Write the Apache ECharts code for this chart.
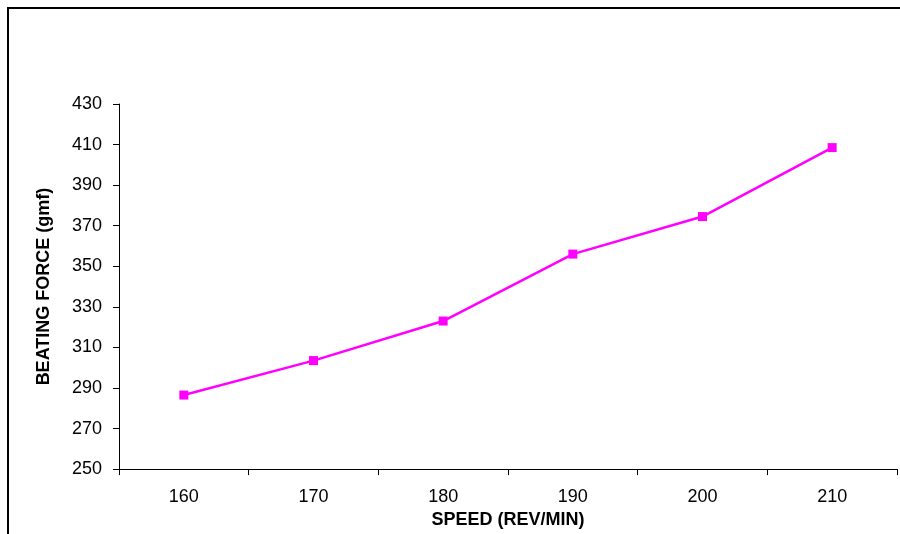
<!DOCTYPE html>
<html>
<head>
<meta charset="utf-8">
<script src="https://cdn.jsdelivr.net/npm/echarts@6/dist/echarts.min.js"></script>
<style>html,body{margin:0;padding:0;background:#fff}#c{width:900px;height:534px}</style>
</head>
<body>
<div id="c"></div>
<script>
const categories = ['160', '170', '180', '190', '200', '210'];
const beatingForce = [286.5, 303.5, 323, 356, 374.5, 408.5];
const yMin = 250, yMax = 430, yStep = 20;

const chart = echarts.init(document.getElementById('c'), null, {renderer: 'canvas'});
chart.setOption({
  animation: false,
  backgroundColor: '#fff',
  textStyle: {fontFamily: 'Liberation Sans, Arial, sans-serif'},
  graphic: [{
    type: 'rect', shape: {x: 8, y: 8, width: 1200, height: 1200},
    style: {fill: 'none', stroke: '#000', lineWidth: 2}, silent: true
  }],
  grid: {left: 119, top: 104, right: 3, bottom: 64, containLabel: false},
  xAxis: {
    type: 'category', data: categories, boundaryGap: true,
    name: 'SPEED (REV/MIN)', nameLocation: 'middle', nameGap: 41,
    nameTextStyle: {fontSize: 18, fontWeight: 'bold', color: '#000'},
    axisLine: {lineStyle: {color: '#000', width: 1}},
    axisTick: {show: true, length: 6, inside: false, lineStyle: {color: '#000'}},
    axisLabel: {fontSize: 18, color: '#000', margin: 19},
    splitLine: {show: false}
  },
  yAxis: {
    type: 'value', min: yMin, max: yMax, interval: yStep,
    name: 'BEATING FORCE (gmf)', nameLocation: 'middle', nameGap: 66, nameRotate: 90,
    nameTextStyle: {fontSize: 18, fontWeight: 'bold', color: '#000'},
    axisLine: {show: true, lineStyle: {color: '#000', width: 1}},
    axisTick: {show: true, length: 6, lineStyle: {color: '#000'}},
    axisLabel: {fontSize: 18, color: '#000', margin: 17},
    splitLine: {show: false}
  },
  series: [{
    type: 'line', data: beatingForce,
    symbol: 'rect', symbolSize: 9,
    lineStyle: {color: '#FF00FF', width: 2.5},
    itemStyle: {color: '#FF00FF'}
  }]
});
</script>
</body>
</html>
